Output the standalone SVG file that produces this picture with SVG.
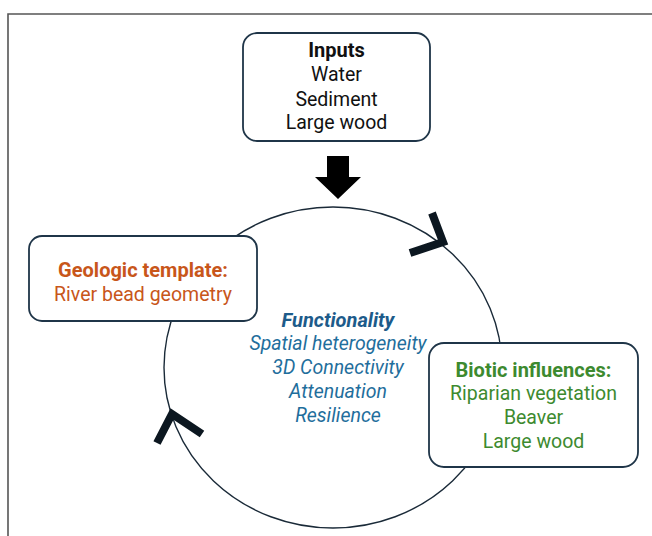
<svg xmlns="http://www.w3.org/2000/svg" width="652" height="536" viewBox="0 0 652 536">
<style>
.box{fill:#fff;stroke:#1f3548;stroke-width:1.8}
.t{font-family:Roboto,"Liberation Sans",sans-serif;font-size:19.5px;text-anchor:middle}
.b{font-weight:bold;font-size:20px}
.blk{fill:#111}
.or{fill:#c8561a}
.gr{fill:#3d8a2f}
.bl{fill:#1f6e9c;font-style:italic}
.chev{fill:none;stroke:#0c1720;stroke-width:8}
</style>
<rect x="0" y="0" width="652" height="536" fill="#fff"/>
<path d="M8 536 V14 H652" fill="none" stroke="#555" stroke-width="1.6"/>
<g id="connectors">
<ellipse cx="333" cy="367.5" rx="169" ry="160.5" fill="none" stroke="#1a2a38" stroke-width="1.4"/>
<polygon points="327,156 349,156 349,177 361,177 338,199 315,177 327,177" fill="#000"/>
<polyline class="chev" points="432,213 443,242 410,253"/>
<polyline class="chev" points="202,434 172,414 157,443"/>
</g>
<g id="inputs">
<rect class="box" x="243" y="33" width="187" height="108" rx="14"/>
<text class="t b blk" x="336.5" y="57">Inputs</text>
<text class="t blk" x="336.5" y="81">Water</text>
<text class="t blk" x="336.5" y="106">Sediment</text>
<text class="t blk" x="336.5" y="129">Large wood</text>
</g>
<g id="geologic">
<rect class="box" x="29" y="236" width="228" height="85" rx="13"/>
<text class="t b or" x="143" y="277">Geologic template:</text>
<text class="t or" x="143" y="301">River bead geometry</text>
</g>
<g id="biotic">
<rect class="box" x="429" y="343" width="209" height="124" rx="15"/>
<text class="t b gr" x="533.5" y="377">Biotic influences:</text>
<text class="t gr" x="533.5" y="400">Riparian vegetation</text>
<text class="t gr" x="533.5" y="424">Beaver</text>
<text class="t gr" x="533.5" y="448">Large wood</text>
</g>
<g id="functionality">
<text class="t b bl" x="338" y="327" style="fill:#1d5b8a">Functionality</text>
<text class="t bl" x="338" y="350">Spatial heterogeneity</text>
<text class="t bl" x="338" y="374">3D Connectivity</text>
<text class="t bl" x="338" y="398">Attenuation</text>
<text class="t bl" x="338" y="422">Resilience</text>
</g>
</svg>
